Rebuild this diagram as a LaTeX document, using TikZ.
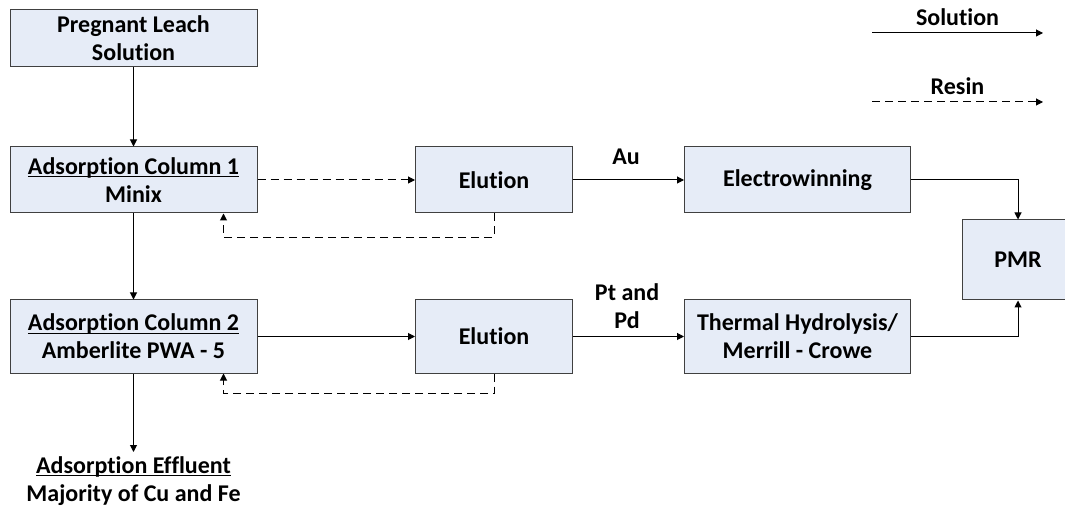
\documentclass[tikz,border=0pt]{standalone}
\usepackage{fontspec}
\setmainfont{Carlito}[Ligatures=NoCommon]
\usetikzlibrary{arrows.meta}
\definecolor{boxfill}{RGB}{230,236,247}
\definecolor{boxline}{RGB}{64,64,64}
\newcommand{\ulin}[1]{\setbox0\hbox{#1}\rlap{\rule[-3pt]{\wd0}{1.2pt}}\box0}
\tikzset{
  unit/.style={draw=boxline, fill=boxfill, line width=1pt, align=center, inner sep=0pt,
    font=\bfseries\fontsize{24}{28}\selectfont},
  lbl/.style={align=center, inner sep=0pt, font=\bfseries\fontsize{24}{28}\selectfont},
  sol/.style={line width=1pt, -{Triangle[length=7pt,width=7pt]}},
  res/.style={sol, dash pattern=on 8pt off 5pt},
}
\begin{document}
\begin{tikzpicture}[x=1pt,y=-1pt]
    \useasboundingbox (0,0) rectangle (1065,510);
    % Columnas de adsorcion
    \node[unit, minimum width=247pt, minimum height=57pt] (pls) at (133.5,38.5) {Pregnant Leach\\Solution};
    \node[unit, minimum width=247pt, minimum height=66pt] (col1) at (133.5,180) {\ulin{Adsorption Column 1}\\Minix};
    \node[unit, minimum width=247pt, minimum height=73pt] (col2) at (133.5,336.5) {\ulin{Adsorption Column 2}\\Amberlite PWA - 5};
    \node[lbl] (eff) at (133.5,481) {\ulin{Adsorption Effluent}\\Majority of Cu and Fe};
    \coordinate (effin) at (133.5,452);
    % Elucion y recuperacion
    \node[unit, minimum width=157pt, minimum height=66pt] (elu1) at (494,180) {Elution};
    \node[unit, minimum width=157pt, minimum height=73pt] (elu2) at (494,336.5) {Elution};
    \node[unit, minimum width=226pt, minimum height=66pt] (ew) at (797.5,180) {Electrowinning};
    \node[unit, minimum width=226pt, minimum height=73pt] (thh) at (797.5,336.5) {Thermal Hydrolysis/\\Merrill - Crowe};
    \node[unit, minimum width=112pt, minimum height=80pt] (pmr) at (1018,260) {PMR};
    \node[lbl] (au) at (626,157) {Au};
    \node[lbl] (ptpd) at (627,306) {Pt and\\Pd};
    % Flujos
    \draw[sol] (pls) -- (col1);
    \draw[sol] (col1) -- (col2);
    \draw[sol] (col2) -- (effin);
    \draw[res] (col1) -- (elu1);
    \draw[sol] (col2) -- (elu2);
    \draw[sol] (elu1) -- (ew);
    \draw[sol] (elu2) -- (thh);
    \draw[sol] (ew.east) -| (pmr.north);
    \draw[sol] (thh.east) -| (pmr.south);
    \draw[res] (elu1.south) -- ++(0,24) -| ([xshift=90pt]col1.south);
    \draw[res] (elu2.south) -- ++(0,20) -| ([xshift=90pt]col2.south);
    % Leyenda
    \coordinate (s1) at (872,33);
    \coordinate (s2) at (1043,33);
    \coordinate (r1) at (872,102);
    \coordinate (r2) at (1043,102);
    \draw[sol] (s1) -- node[lbl, above=7pt] (soltxt) {Solution} (s2);
    \draw[res] (r1) -- node[lbl, above=7pt] (restxt) {Resin} (r2);
\end{tikzpicture}
\end{document}
